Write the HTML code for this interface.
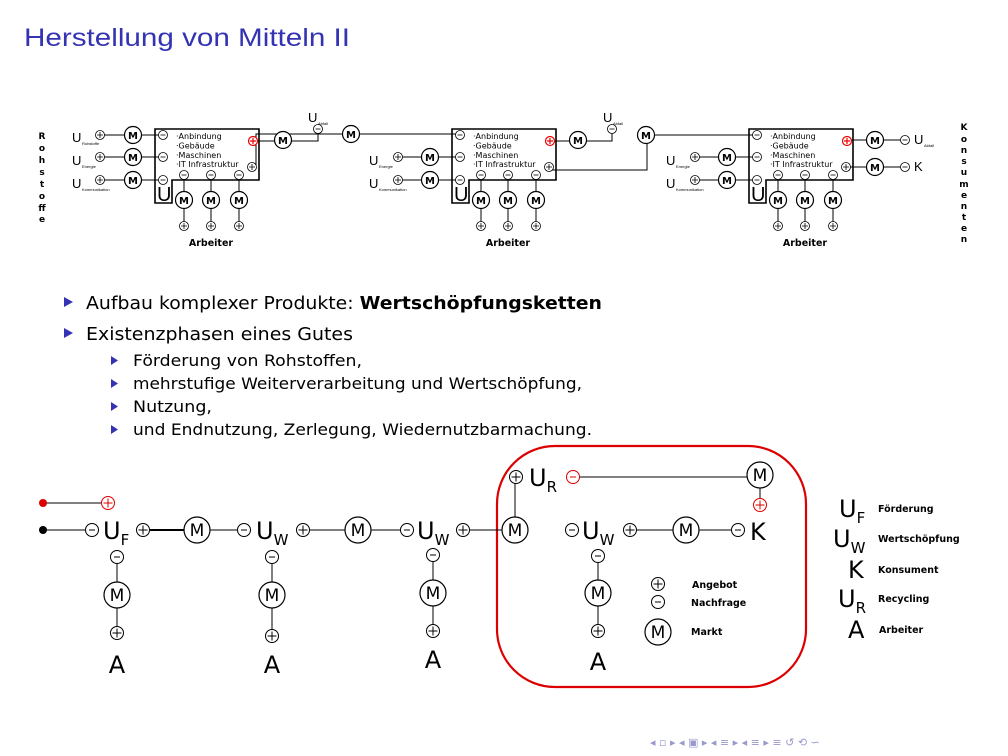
<!DOCTYPE html>
<html><head><meta charset="utf-8"><style>
body{margin:0;width:1008px;height:756px;background:#fff;overflow:hidden;font-family:"Liberation Sans","DejaVu Sans",sans-serif}
svg{position:absolute;left:0;top:0}
</style></head><body>
<svg width="1008" height="756" viewBox="0 0 1008 756" font-family="DejaVu Sans, Liberation Sans, sans-serif">
<defs>
<g id="p"><circle r="4.5" fill="#fff" stroke="#000" stroke-width="0.8"/><path d="M-3 0H3M0-3V3" stroke="#000" stroke-width="0.8"/></g>
<g id="m"><circle r="4.5" fill="#fff" stroke="#000" stroke-width="0.8"/><path d="M-2.5 0H2.5" stroke="#000" stroke-width="0.8"/></g>
<g id="rp"><circle r="4.5" fill="#fff" stroke="#e00" stroke-width="1.2"/><path d="M-3 0H3M0-3V3" stroke="#e00" stroke-width="1.2"/></g>
<g id="M"><circle r="8.5" fill="#fff" stroke="#000" stroke-width="1.2"/></g>
<g id="P"><circle r="6.5" fill="#fff" stroke="#000" stroke-width="1"/><path d="M-4.5 0H4.5M0-4.5V4.5" stroke="#000" stroke-width="1"/></g>
<g id="N"><circle r="6.5" fill="#fff" stroke="#000" stroke-width="1"/><path d="M-3 0H3" stroke="#000" stroke-width="1"/></g>
<g id="RP"><circle r="6.5" fill="#fff" stroke="#d00" stroke-width="1"/><path d="M-4.5 0H4.5M0-4.5V4.5" stroke="#d00" stroke-width="1"/></g>
<g id="RN"><circle r="6.5" fill="#fff" stroke="#d00" stroke-width="1"/><path d="M-3 0H3" stroke="#d00" stroke-width="1"/></g>
<g id="BM"><circle r="13" fill="#fff" stroke="#000" stroke-width="1.2"/></g>

<g id="blk">
<path d="M155 129H259V180H172V203H155Z" fill="none" stroke="#000" stroke-width="1.6"/>
<text x="157" y="201" font-size="20" font-family="Liberation Sans">U</text>
<g font-size="8"><text x="176" y="139">·Anbindung</text><text x="176" y="148.5">·Gebäude</text><text x="176" y="158">·Maschinen</text><text x="176" y="167">·IT Infrastruktur</text></g>
<g stroke="#000" stroke-width="1"><path d="M184 175V226M211 175V226M239 175V226"/></g>
<use href="#m" x="163" y="135"/><use href="#m" x="163" y="157"/><use href="#m" x="163" y="180"/>
<use href="#m" x="184" y="175"/><use href="#m" x="211" y="175"/><use href="#m" x="239" y="175"/>
<use href="#M" x="184" y="200"/><use href="#M" x="211" y="200"/><use href="#M" x="239" y="200"/>
<g font-size="10" font-weight="bold" text-anchor="middle"><text x="184" y="204">M</text><text x="211" y="204">M</text><text x="239" y="204">M</text></g>
<use href="#p" x="184" y="226"/><use href="#p" x="211" y="226"/><use href="#p" x="239" y="226"/>
<text x="211" y="246" font-size="9.5" font-weight="bold" text-anchor="middle">Arbeiter</text>
<use href="#rp" x="253" y="141"/><use href="#p" x="252" y="167"/>
</g>
</defs>

<text x="24" y="46" font-size="25" fill="#3333b3" font-family="Liberation Sans" textLength="326" lengthAdjust="spacingAndGlyphs">Herstellung von Mitteln II</text>

<g font-size="9" font-weight="bold" text-anchor="middle">
<text x="42" y="139">R</text><text x="42" y="151">o</text><text x="42" y="163">h</text><text x="42" y="175">s</text><text x="42" y="187">t</text><text x="42" y="199">o</text><text x="42" y="211">ff</text><text x="42" y="222">e</text>
<text x="964" y="130">K</text><text x="964" y="142">o</text><text x="964" y="153">n</text><text x="964" y="164">s</text><text x="964" y="175">u</text><text x="964" y="187">m</text><text x="964" y="198">e</text><text x="964" y="209">n</text><text x="964" y="220">t</text><text x="964" y="231">e</text><text x="964" y="242">n</text>
</g>

<g stroke="#000" stroke-width="1" fill="none">
<path d="M100 135H163M100 157H163M100 180H163"/>
<path d="M253 141H318V129"/>
<path d="M252 167H256V134H463"/>
<path d="M398 157H463M398 180H463"/>
<path d="M550 141H612V129"/>
<path d="M552 170H647V135H756"/>
<path d="M695 157H756M695 180H756"/>
<path d="M845 140H905M845 167H905"/>
</g>
<use href="#blk"/>
<use href="#blk" x="297"/>
<use href="#blk" x="594"/>
<g font-family="Liberation Sans">
<text x="72" y="142" font-size="13">U</text><text x="82" y="145" font-size="4">Rohstoffe</text>
<text x="72" y="165" font-size="13">U</text><text x="82" y="168" font-size="4">Energie</text>
<text x="72" y="188" font-size="13">U</text><text x="82" y="191" font-size="4">Kommunikation</text>
<text x="369" y="165" font-size="13">U</text><text x="379" y="168" font-size="4">Energie</text>
<text x="369" y="188" font-size="13">U</text><text x="379" y="191" font-size="4">Kommunikation</text>
<text x="666" y="165" font-size="13">U</text><text x="676" y="168" font-size="4">Energie</text>
<text x="666" y="188" font-size="13">U</text><text x="676" y="191" font-size="4">Kommunikation</text>
<text x="308" y="122" font-size="13">U</text><text x="318" y="125" font-size="4">Abfall</text>
<text x="603" y="122" font-size="13">U</text><text x="613" y="125" font-size="4">Abfall</text>
<text x="914" y="144" font-size="13">U</text><text x="924" y="147" font-size="4">Abfall</text>
<text x="914" y="171" font-size="13">K</text>
</g>
<use href="#p" x="100" y="135"/><use href="#p" x="100" y="157"/><use href="#p" x="100" y="180"/>
<use href="#p" x="398" y="157"/><use href="#p" x="398" y="180"/>
<use href="#p" x="695" y="157"/><use href="#p" x="695" y="180"/>
<use href="#m" x="318" y="129"/><use href="#m" x="612" y="129"/>
<use href="#m" x="905" y="140"/><use href="#m" x="905" y="167"/>
<g>
<use href="#M" x="133" y="135"/><use href="#M" x="133" y="157"/><use href="#M" x="133" y="180"/>
<use href="#M" x="283" y="140"/><use href="#M" x="351" y="134"/>
<use href="#M" x="430" y="157"/><use href="#M" x="430" y="180"/>
<use href="#M" x="578" y="140"/><use href="#M" x="646" y="135"/>
<use href="#M" x="727" y="157"/><use href="#M" x="727" y="180"/>
<use href="#M" x="875" y="140"/><use href="#M" x="875" y="167"/>
</g>
<g font-size="10" font-weight="bold" text-anchor="middle">
<text x="133" y="139">M</text><text x="133" y="161">M</text><text x="133" y="184">M</text>
<text x="283" y="144">M</text><text x="351" y="138">M</text>
<text x="430" y="161">M</text><text x="430" y="184">M</text>
<text x="578" y="144">M</text><text x="646" y="139">M</text>
<text x="727" y="161">M</text><text x="727" y="184">M</text>
<text x="875" y="144">M</text><text x="875" y="171">M</text>
</g>

<g fill="#3333b3"><path d="M64 297L73 302L64 307Z"/><path d="M64 328L73 333L64 338Z"/>
<path d="M111 356L118 360.5L111 365Z"/><path d="M111 379L118 383.5L111 388Z"/><path d="M111 402L118 406.5L111 411Z"/><path d="M111 425L118 429.5L111 434Z"/></g>
<g font-family="DejaVu Sans" fill="#000" lengthAdjust="spacingAndGlyphs">
<text x="86" y="309" font-size="18" textLength="516" lengthAdjust="spacingAndGlyphs">Aufbau komplexer Produkte: <tspan font-weight="bold">Wertschöpfungsketten</tspan></text>
<text x="86" y="340" font-size="18" textLength="267" lengthAdjust="spacingAndGlyphs">Existenzphasen eines Gutes</text>
<text x="133" y="366" font-size="16" textLength="229" lengthAdjust="spacingAndGlyphs">Förderung von Rohstoffen,</text>
<text x="133" y="389" font-size="16" textLength="449" lengthAdjust="spacingAndGlyphs">mehrstufige Weiterverarbeitung und Wertschöpfung,</text>
<text x="133" y="412" font-size="16" textLength="79" lengthAdjust="spacingAndGlyphs">Nutzung,</text>
<text x="133" y="435" font-size="16" textLength="459" lengthAdjust="spacingAndGlyphs">und Endnutzung, Zerlegung, Wiedernutzbarmachung.</text>
</g>

<rect x="497" y="446" width="309" height="241" rx="58" fill="none" stroke="#d00" stroke-width="2.2"/>
<g stroke="#000" stroke-width="1" fill="none">
<path d="M43 503H108" />
<path d="M43 530H92M143 530H244M303 530H407M463 530H515M515 477V530M573 477H760V505M630 530H738"/>
<path d="M117 557V633M272 557V636M433 555V631M598 556V631"/>
</g>
<path d="M150 530H185" stroke="#000" stroke-width="2"/>
<circle cx="43" cy="503" r="4" fill="#d00"/><circle cx="43" cy="530" r="4" fill="#000"/>
<use href="#RP" x="108" y="503"/>
<use href="#N" x="92" y="530"/><use href="#P" x="143" y="530"/>
<use href="#N" x="244" y="530"/><use href="#P" x="303" y="530"/>
<use href="#N" x="407" y="530"/><use href="#P" x="463" y="530"/>
<use href="#P" x="516" y="477"/><use href="#RN" x="573" y="477"/>
<use href="#RP" x="760" y="505"/>
<use href="#N" x="572" y="530"/><use href="#P" x="630" y="530"/><use href="#N" x="738" y="530"/>
<use href="#N" x="117" y="557"/><use href="#P" x="117" y="633"/>
<use href="#N" x="272" y="557"/><use href="#P" x="272" y="636"/>
<use href="#N" x="433" y="555"/><use href="#P" x="433" y="631"/>
<use href="#N" x="598" y="556"/><use href="#P" x="598" y="631"/>
<use href="#P" x="658" y="584"/><use href="#N" x="658" y="602"/>
<use href="#BM" x="197" y="530"/><use href="#BM" x="358" y="530"/><use href="#BM" x="515" y="530"/>
<use href="#BM" x="760" y="475"/><use href="#BM" x="686" y="530"/>
<use href="#BM" x="117" y="595"/><use href="#BM" x="272" y="595"/><use href="#BM" x="433" y="593"/><use href="#BM" x="598" y="593"/>
<use href="#BM" x="658" y="632"/>
<g font-size="17" text-anchor="middle">
<text x="197" y="536">M</text><text x="358" y="536">M</text><text x="515" y="536">M</text><text x="760" y="481">M</text><text x="686" y="536">M</text>
<text x="117" y="601">M</text><text x="272" y="601">M</text><text x="433" y="599">M</text><text x="598" y="599">M</text><text x="658" y="638">M</text>
</g>
<g font-size="24" font-family="DejaVu Sans">
<text x="103" y="539">U<tspan font-size="15" dy="6">F</tspan></text>
<text x="256" y="539">U<tspan font-size="15" dy="6">W</tspan></text>
<text x="417" y="539">U<tspan font-size="15" dy="6">W</tspan></text>
<text x="529" y="486">U<tspan font-size="15" dy="6">R</tspan></text>
<text x="582" y="539">U<tspan font-size="15" dy="6">W</tspan></text>
<text x="750" y="540">K</text>
<text x="117" y="673" text-anchor="middle">A</text><text x="272" y="673" text-anchor="middle">A</text>
<text x="433" y="668" text-anchor="middle">A</text><text x="598" y="670" text-anchor="middle">A</text>
<text x="839" y="517">U<tspan font-size="15" dy="6">F</tspan></text>
<text x="833" y="547">U<tspan font-size="15" dy="6">W</tspan></text>
<text x="848" y="578">K</text>
<text x="838" y="607">U<tspan font-size="15" dy="6">R</tspan></text>
<text x="848" y="638">A</text>
</g>
<g font-size="9.5" font-weight="bold">
<text x="692" y="588">Angebot</text><text x="691" y="606">Nachfrage</text><text x="691" y="635">Markt</text>
<text x="878" y="512">Förderung</text><text x="878" y="542">Wertschöpfung</text><text x="878" y="573">Konsument</text><text x="878" y="602">Recycling</text><text x="879" y="633">Arbeiter</text>
</g>

<g fill="#9999cc" font-size="11" font-family="DejaVu Sans">
<text x="650" y="746">◂ ▫ ▸ ◂ ▣ ▸ ◂ ≡ ▸ ◂ ≡ ▸ ≡ ↺ ⟲ ∽</text>
</g>
</svg>
</body></html>
